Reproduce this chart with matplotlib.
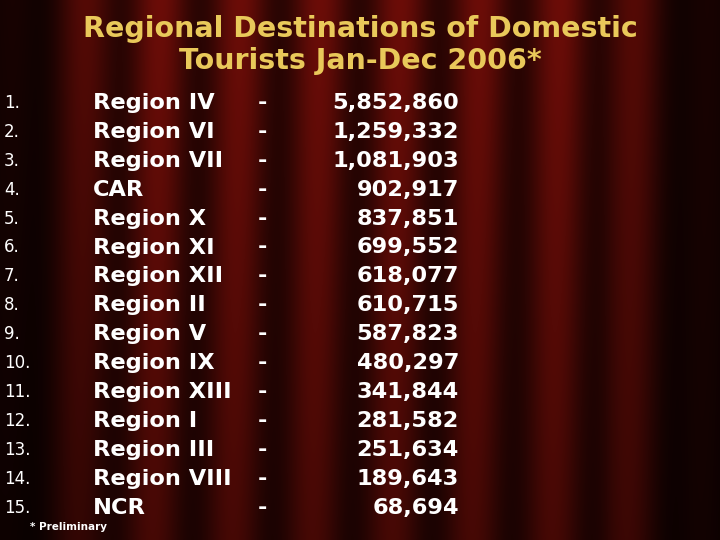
import numpy as np
import matplotlib.pyplot as plt

title = "Regional Destinations of Domestic\nTourists Jan-Dec 2006*"
regions = ["Region IV", "Region VI", "Region VII", "CAR", "Region X", "Region XI",
           "Region XII", "Region II", "Region V", "Region IX", "Region XIII",
           "Region I", "Region III", "Region VIII", "NCR"]
tourists = [5852860, 1259332, 1081903, 902917, 837851, 699552, 618077, 610715,
            587823, 480297, 341844, 281582, 251634, 189643, 68694]

fig = plt.figure(figsize=(7.2, 5.4), dpi=100)
ax = fig.add_axes([0, 0, 1, 1])
ax.set_xlim(0, 720)
ax.set_ylim(540, 0)
ax.axis("off")

# curtain background
xs = np.linspace(0, 1, 720)
ys = np.linspace(0, 1, 540)
X, Y = np.meshgrid(xs, ys)
folds = 0.7 + 0.3 * np.cos(X * 2 * np.pi * 9 + 0.6 * Y)
edge = np.clip(np.minimum(X, 1 - X) / 0.15, 0, 1) ** 1.2
top = np.clip(1 - Y * 0.35, 0, 1)
inten = folds * (0.2 + 0.8 * edge) * top
img = np.zeros((540, 720, 3))
img[..., 0] = 0.42 * inten
img[..., 1] = 0.05 * inten
img[..., 2] = 0.03 * inten
ax.imshow(img, extent=[0, 720, 540, 0], aspect="auto", zorder=0)

ax.text(360, 45, title, ha="center", va="center", color="#E9C95A",
        fontsize=20.5, fontweight="bold", family="DejaVu Sans", linespacing=1.2)

y0, dy = 103, 28.9
for i, (r, v) in enumerate(zip(regions, tourists)):
    y = y0 + i * dy
    ax.text(4, y, f"{i + 1}.", ha="left", va="center", color="white",
            fontsize=12, family="DejaVu Sans")
    ax.text(93, y, r, ha="left", va="center", color="white",
            fontsize=16.2, fontweight="bold", family="DejaVu Sans")
    ax.text(262, y, "-", ha="center", va="center", color="white",
            fontsize=16.2, fontweight="bold", family="DejaVu Sans")
    ax.text(459, y, f"{v:,}", ha="right", va="center", color="white",
            fontsize=16.2, fontweight="bold", family="DejaVu Sans")

ax.text(30, 527, "* Preliminary", ha="left", va="center", color="white",
        fontsize=7.5, fontweight="bold", family="DejaVu Sans")

fig.savefig("out.png", dpi=100)
